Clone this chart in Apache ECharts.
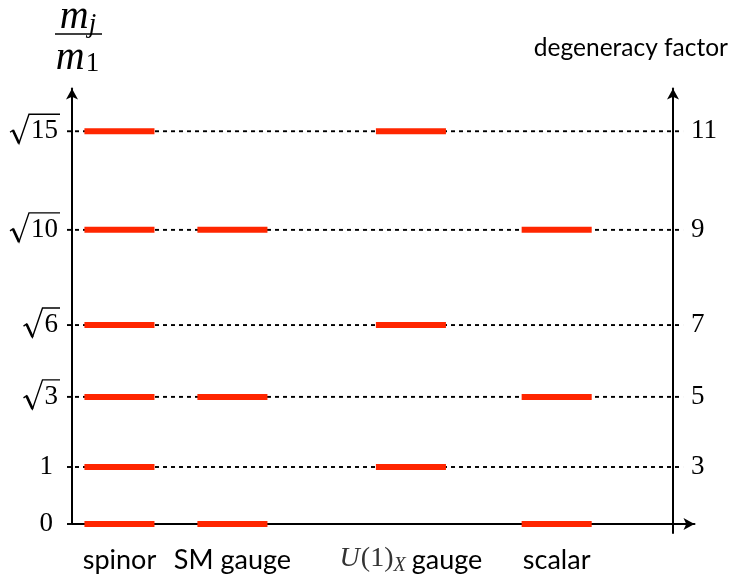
<!DOCTYPE html>
<html><head><meta charset="utf-8">
<script src="https://cdn.jsdelivr.net/npm/echarts@6/dist/echarts.min.js"></script>
<style>html,body{margin:0;padding:0;background:#fff}#c{width:733px;height:580px}</style>
</head><body><div id="c"></div>
<script>
// ---- data ----
const categories = ['spinor', 'SM gauge', 'U(1)X gauge', 'scalar'];
const categoryPos = [0.42, 1.42, 3.0, 4.29];          // schematic column positions
const levelRadicands = [0, 1, 3, 6, 10, 15];          // m_j/m_1 = sqrt(r)
const levelPos = [0, 1, 2.23, 3.49, 5.16, 6.89];      // schematic heights of levels
const degeneracy = [null, 3, 5, 7, 9, 11];
const spinorLevels = [0, 1, 3, 6, 10, 15];
const smGaugeLevels = [0, 3, 10];
const u1GaugeLevels = [1, 6, 15];
const scalarLevels = [0, 3, 10];
const rightAxisPos = 5.32;

const BAR = '#ff2600';
const MATH = '"Liberation Serif", "DejaVu Serif", serif';
const SANS = 'Lato, "Open Sans", sans-serif';
const ctx = document.createElement('canvas').getContext('2d');
function tw(t, f) { ctx.font = f; return ctx.measureText(t).width; }

const barData = [];
[spinorLevels, smGaugeLevels, u1GaugeLevels, scalarLevels].forEach((lv, c) => {
  lv.forEach(r => barData.push([categoryPos[c], levelPos[levelRadicands.indexOf(r)]]));
});
const levelData = levelPos.map((p, i) => [p, i]);
const catData = categoryPos.map((p, i) => [p, i]);

const numFont = '27px ' + MATH;

function renderLevel(params, api) {
  const y = api.value(0), i = api.value(1);
  const pL = api.coord([0, y]);
  const pR = api.coord([rightAxisPos, y]);
  const cy = pL[1];
  const kids = [{
    type: 'line', shape: { x1: pL[0] - 5, y1: cy, x2: pR[0] + 10, y2: cy },
    style: { stroke: '#000', lineWidth: 1.9, lineDash: [4, 4] }, z2: 0
  }];
  const r = levelRadicands[i];
  if (r === 0 || r === 1) {
    kids.push({ type: 'text', x: pL[0] - 19, y: cy, style: { text: String(r), font: numFont, fill: '#000', align: 'right', verticalAlign: 'middle' } });
  } else {
    const s = String(r);
    const w = tw(s, numFont);
    const xr = pL[0] - 14;
    const xd = xr - w;
    const x0 = xd - 21;
    kids.push({ type: 'text', x: xd, y: cy, style: { text: s, font: numFont, fill: '#000', align: 'left', verticalAlign: 'middle' } });
    kids.push({ type: 'polyline', shape: { points: [[x0, cy + 1], [x0 + 3, cy - 1], [x0 + 9, cy + 12], [x0 + 19, cy - 17], [xr + 2, cy - 17]] },
      style: { stroke: '#000', lineWidth: 1.4, fill: null } });
    kids.push({ type: 'line', shape: { x1: x0 + 3, y1: cy - 1, x2: x0 + 9, y2: cy + 12 }, style: { stroke: '#000', lineWidth: 2.6 } });
  }
  if (degeneracy[i] != null) {
    kids.push({ type: 'text', x: pR[0] + 18, y: cy, style: { text: String(degeneracy[i]), font: numFont, fill: '#000', align: 'left', verticalAlign: 'middle' } });
  }
  return { type: 'group', children: kids };
}

function renderBar(params, api) {
  const p0 = api.coord([api.value(0) - 0.31, api.value(1)]);
  const p1 = api.coord([api.value(0) + 0.31, api.value(1)]);
  return { type: 'rect', shape: { x: p0[0], y: p0[1] - 3, width: p1[0] - p0[0], height: 6 }, style: { fill: BAR } };
}

function renderCat(params, api) {
  const i = api.value(1);
  const p = api.coord([api.value(0), 0]);
  const y = p[1] + 36;
  const labFont = '27px ' + SANS;
  if (categories[i] !== 'U(1)X gauge') {
    return { type: 'text', x: p[0], y: y, style: { text: categories[i], font: labFont, fill: '#000', align: 'center', verticalAlign: 'middle' } };
  }
  const segs = [
    { t: 'U', f: 'italic 28px ' + MATH, dy: -1, c: '#333', g: 1 },
    { t: '(1)', f: '28px ' + MATH, dy: -1, c: '#333', g: 0 },
    { t: 'X', f: 'italic 20px ' + MATH, dy: 6, c: '#333', g: 6 },
    { t: 'gauge', f: labFont, dy: 0, c: '#000', g: 0 }
  ];
  const total = segs.reduce((s, g) => s + tw(g.t, g.f) + g.g, 0);
  let x = p[0] - total / 2;
  const kids = segs.map(g => {
    const el = { type: 'text', x: x, y: y + g.dy, style: { text: g.t, font: g.f, fill: g.c, align: 'left', verticalAlign: 'middle' } };
    x += tw(g.t, g.f) + g.g;
    return el;
  });
  return { type: 'group', children: kids };
}

// fraction m_j / m_1
const mFont = 'italic 40px ' + MATH;
const subFontI = 'italic 27px ' + MATH;
const subFont = '27px ' + MATH;
const fracCx = 78;
const graphics = [];
(function () {
  const wm = tw('m', mFont);
  const wj = tw('j', subFontI), w1 = tw('1', subFont);
  let x = fracCx - (wm + wj) / 2;
  graphics.push({ type: 'text', x: x, y: 17, style: { text: 'm', font: mFont, fill: '#000', verticalAlign: 'middle' } });
  graphics.push({ type: 'text', x: x + wm, y: 25, style: { text: 'j', font: subFontI, fill: '#000', verticalAlign: 'middle' } });
  x = fracCx - (wm + w1) / 2 - 1;
  graphics.push({ type: 'text', x: x, y: 58, style: { text: 'm', font: mFont, fill: '#000', verticalAlign: 'middle' } });
  graphics.push({ type: 'text', x: x + wm + 1, y: 64, style: { text: '1', font: subFont, fill: '#000', verticalAlign: 'middle' } });
  graphics.push({ type: 'line', shape: { x1: 55, y1: 34, x2: 102, y2: 34 }, style: { stroke: '#000', lineWidth: 1.5 } });
})();

const axisLine = { show: true, onZero: false, symbol: ['none', 'arrow'], symbolSize: [9, 11], lineStyle: { color: '#000', width: 2 } };

const chart = echarts.init(document.getElementById('c'), null, { renderer: 'canvas' });
chart.setOption({
  animation: false,
  backgroundColor: '#fff',
  title: { text: 'degeneracy factor', right: 5, top: 36, padding: 0, textStyle: { fontFamily: SANS, fontSize: 24.5, fontWeight: 'normal', color: '#000' } },
  graphic: graphics,
  grid: [
    { left: 72, right: 38.5, top: 88.5, bottom: 56 },
    { left: 673, width: 1, top: 88.5, bottom: 47 }
  ],
  xAxis: [
    { gridIndex: 0, type: 'value', min: 0, max: 5.51, axisLine: axisLine, axisTick: { show: false }, axisLabel: { show: false }, splitLine: { show: false } },
    { gridIndex: 1, type: 'value', min: 0, max: 1, show: false }
  ],
  yAxis: [
    { gridIndex: 0, type: 'value', min: 0, max: 7.64, axisLine: axisLine, axisTick: { show: false }, axisLabel: { show: false }, splitLine: { show: false } },
    { gridIndex: 1, type: 'value', min: 0, max: 1, position: 'left', axisLine: axisLine, axisTick: { show: false }, axisLabel: { show: false }, splitLine: { show: false } }
  ],
  series: [
    { type: 'custom', xAxisIndex: 0, yAxisIndex: 0, data: levelData, renderItem: renderLevel, z: 1, clip: false },
    { type: 'custom', xAxisIndex: 0, yAxisIndex: 0, data: barData, renderItem: renderBar, z: 5, clip: false },
    { type: 'custom', xAxisIndex: 0, yAxisIndex: 0, data: catData, renderItem: renderCat, z: 5, clip: false }
  ]
});
</script>
</body></html>
